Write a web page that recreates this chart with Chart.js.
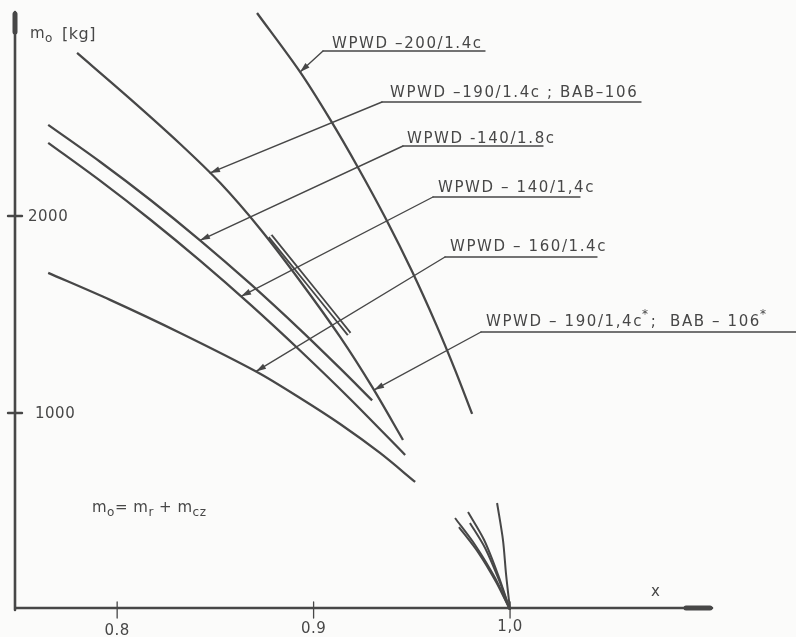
<!DOCTYPE html>
<html>
<head>
<meta charset="utf-8">
<script src="https://cdn.jsdelivr.net/npm/chart.js@4.4.1/dist/chart.umd.min.js"></script>
<style>
  html, body { margin: 0; padding: 0; background: #fbfbfa; }
  #wrap { width: 796px; height: 637px; position: relative; }
</style>
</head>
<body>
<div id="wrap"><canvas id="chartContainer"></canvas></div>
<script>
// values (x = ratio, m0 in kg)
var xTicks = [0.8, 0.9, 1.0];
var xTickLabels = ['0.8', '0.9', '1,0'];
var yTicks = [1000, 2000];
var yTickLabels = ['1000', '2000'];

// WPWD-200/1.4c
var x200 = [0.8712, 0.8931, 0.9084, 0.9226, 0.9369, 0.9501, 0.9623, 0.9720, 0.9807];
var m200 = [3030, 2731, 2490, 2246, 1983, 1719, 1451, 1219, 995];
// WPWD-190/1.4c ; BAB-106
var x190 = [0.7796, 0.8066, 0.8321, 0.8524, 0.8728, 0.8931, 0.9135, 0.9298, 0.9455];
var m190 = [2827, 2594, 2365, 2168, 1934, 1670, 1386, 1132, 863];
// WPWD-140/1.8c
var x140a = [0.7649, 0.7913, 0.8168, 0.8422, 0.8677, 0.8931, 0.9135, 0.9298];
var m140a = [2462, 2275, 2082, 1876, 1656, 1423, 1226, 1064];
// WPWD-140/1.4c
var x140b = [0.7649, 0.7913, 0.8168, 0.8422, 0.8677, 0.8931, 0.9186, 0.9466];
var m140b = [2371, 2179, 1982, 1773, 1551, 1317, 1071, 787];
// WPWD-160/1.4c
var x160 = [0.7649, 0.7964, 0.8321, 0.8712, 0.8931, 0.9135, 0.9338, 0.9517];
var m160 = [1711, 1574, 1406, 1208, 1076, 944, 797, 650];
// short double-line segment
var xSeg = [0.8779, 0.8980, 0.9181];
var mSeg = [1898, 1650, 1401];

// branches near x = 1
var xB1 = [0.9934, 0.9964, 0.9980, 1.0];   var mB1 = [543, 355, 178, 0];
var xB2 = [0.9720, 0.9822, 0.9924, 1.0];   var mB2 = [467, 330, 162, 0];
var xB3 = [0.9740, 0.9837, 0.9929, 1.0];   var mB3 = [421, 294, 142, 0];
var xB4 = [0.9786, 0.9868, 0.9939, 1.0];   var mB4 = [497, 355, 178, 0];
var xB5 = [0.9796, 0.9873, 0.9944, 1.0];   var mB5 = [442, 315, 152, 0];

var labelTexts = [
  'WPWD \u2013200/1.4c',
  'WPWD \u2013190/1.4c ; BAB\u2013106',
  'WPWD -140/1.8c',
  'WPWD \u2013 140/1,4c',
  'WPWD \u2013 160/1.4c',
  'WPWD \u2013 190/1,4c*;  BAB \u2013 106*'
];
// where each leader arrow touches its curve (data units)
var leaderX = [0.8931, 0.8473, 0.8422, 0.8631, 0.8707, 0.9308];
var leaderM = [2731, 2218, 1876, 1592, 1211, 1117];

function pts(xs, ys) {
  return xs.map(function (v, i) { return { x: v, y: ys[i] }; });
}

var ink = '#474747';
var paper = '#fbfbfa';

function curve(xs, ys, w, col, ord) {
  return {
    data: pts(xs, ys),
    showLine: true,
    borderColor: col || ink,
    borderWidth: w || 2.3,
    pointRadius: 0,
    tension: 0.3,
    order: ord || 0,
    fill: false
  };
}

var datasets = [
  curve(x200, m200),
  curve(x190, m190),
  curve(x140a, m140a),
  curve(x140b, m140b),
  curve(x160, m160),
  curve(xSeg, mSeg, 5.4, ink, 1),
  curve(xSeg, mSeg, 1.8, paper, -1),
  curve(xB1, mB1, 2),
  curve(xB2, mB2, 2),
  curve(xB3, mB3, 2),
  curve(xB4, mB4, 2),
  curve(xB5, mB5, 2)
];

// label boxes in pixels: text left, baseline, underline start/end/y
var labelBoxes = [
  [332, 48, 323, 485, 51],
  [390, 97, 382, 641, 102],
  [407, 143, 403, 543, 146],
  [438, 192, 433, 580, 197],
  [450, 251, 445, 597, 257],
  [486, 326, 481, 796, 332]
];

function drawText(ctx, str, x, y, size) {
  // asterisks are written raised and smaller
  var parts = str.split('*');
  var cx = x;
  for (var i = 0; i < parts.length; i++) {
    ctx.font = size + 'px "DejaVu Sans"';
    ctx.fillText(parts[i], cx, y);
    cx += ctx.measureText(parts[i]).width;
    if (i < parts.length - 1) {
      ctx.font = (size - 3) + 'px "DejaVu Sans"';
      ctx.fillText('*', cx - 1, y - 8);
      cx += ctx.measureText('*').width;
    }
  }
}

function subText(ctx, pieces, x, y) {
  // pieces: [text, isSub]
  var cx = x;
  pieces.forEach(function (p) {
    ctx.font = (p[1] ? 12 : 15) + 'px "DejaVu Sans"';
    ctx.fillText(p[0], cx, y + (p[1] ? 4 : 0));
    cx += ctx.measureText(p[0]).width;
  });
}

var overlay = {
  id: 'overlay',
  afterDraw: function (chart) {
    var ctx = chart.ctx;
    var xs = chart.scales.x, ys = chart.scales.y;
    var x0 = xs.getPixelForValue(xs.min), y0 = ys.getPixelForValue(0);
    var xEnd = xs.getPixelForValue(xs.max), yTop = ys.getPixelForValue(ys.max);
    ctx.save();
    ctx.strokeStyle = ink;
    ctx.fillStyle = ink;
    ctx.lineCap = 'round';

    // axes
    ctx.lineWidth = 2.6;
    ctx.beginPath();
    ctx.moveTo(x0, y0); ctx.lineTo(x0, yTop);
    ctx.moveTo(x0, y0 - 2); ctx.lineTo(xEnd, y0 - 2);
    ctx.stroke();
    ctx.lineWidth = 5;
    ctx.beginPath();
    ctx.moveTo(x0, yTop + 2); ctx.lineTo(x0, yTop + 20);
    ctx.moveTo(xEnd - 26, y0 - 2); ctx.lineTo(xEnd - 2, y0 - 2);
    ctx.stroke();

    // ticks
    ctx.font = '15px "DejaVu Sans"';
    ctx.letterSpacing = '0.5px';
    ctx.textBaseline = 'middle';
    yTicks.forEach(function (v, i) {
      var py = ys.getPixelForValue(v);
      ctx.lineWidth = 2.4;
      ctx.beginPath(); ctx.moveTo(x0 - 7, py); ctx.lineTo(x0 + 7, py); ctx.stroke();
      ctx.textAlign = 'left';
      ctx.fillText(yTickLabels[i], x0 + (v === 1000 ? 20 : 13), py + 1);
    });
    xTicks.forEach(function (v, i) {
      var px = xs.getPixelForValue(v);
      ctx.lineWidth = 1.3;
      ctx.beginPath(); ctx.moveTo(px, y0 - 8); ctx.lineTo(px, y0 + 8); ctx.stroke();
      ctx.textAlign = 'center';
      ctx.fillText(xTickLabels[i], px, y0 + 21 - i * 2);
    });
    ctx.textAlign = 'left';
    ctx.fillText('x', 651, 592);

    // axis title and formula
    ctx.textBaseline = 'alphabetic';
    subText(ctx, [['m', false], ['o', true]], 30, 38);
    ctx.font = '16px "DejaVu Sans"';
    ctx.fillText('[kg]', 62, 39);
    subText(ctx, [['m', false], ['o', true], ['= m', false], ['r', true], [' + m', false], ['cz', true]], 92, 512);

    // labels with leaders
    ctx.letterSpacing = '1.6px';
    labelTexts.forEach(function (t, i) {
      var b = labelBoxes[i];
      drawText(ctx, t, b[0], b[1], 15);
      ctx.lineWidth = 1.4;
      ctx.beginPath(); ctx.moveTo(b[2], b[4]); ctx.lineTo(b[3], b[4]); ctx.stroke();
      var tx = xs.getPixelForValue(leaderX[i]), ty = ys.getPixelForValue(leaderM[i]);
      ctx.beginPath(); ctx.moveTo(b[2], b[4]); ctx.lineTo(tx, ty); ctx.stroke();
      var a = Math.atan2(ty - b[4], tx - b[2]);
      ctx.beginPath();
      ctx.moveTo(tx, ty);
      ctx.lineTo(tx - 10 * Math.cos(a) + 3 * Math.sin(a), ty - 10 * Math.sin(a) - 3 * Math.cos(a));
      ctx.lineTo(tx - 10 * Math.cos(a) - 3 * Math.sin(a), ty - 10 * Math.sin(a) + 3 * Math.cos(a));
      ctx.closePath();
      ctx.fill();
    });
    ctx.restore();
  }
};

var chart = new Chart(document.getElementById('chartContainer').getContext('2d'), {
  type: 'scatter',
  data: { datasets: datasets },
  options: {
    responsive: true,
    maintainAspectRatio: false,
    animation: false,
    layout: { padding: { left: 15, right: 84, top: 12, bottom: 27 } },
    plugins: { legend: { display: false }, tooltip: { enabled: false } },
    scales: {
      x: { type: 'linear', min: 0.748, max: 1.1028, display: false },
      y: { type: 'linear', min: 0, max: 3035, display: false }
    }
  },
  plugins: [overlay]
});
</script>
</body>
</html>
